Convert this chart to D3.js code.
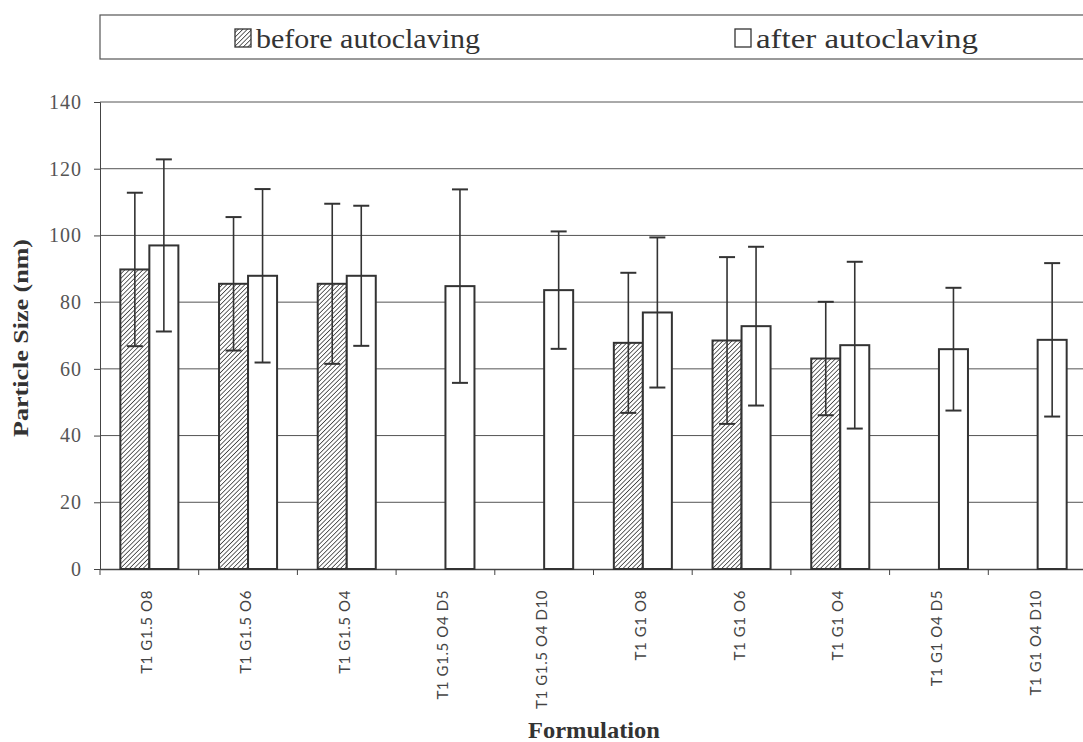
<!DOCTYPE html>
<html><head><meta charset="utf-8">
<script src="https://cdn.jsdelivr.net/npm/d3@7"></script>
<style>
body{margin:0;background:#fff;} svg{display:block;}
.serif{font-family:"Liberation Serif","Times New Roman","DejaVu Serif",serif;}
.hum{font-family:Lato,"Open Sans",sans-serif;}
</style>
</head><body>
<svg id="c" width="1083" height="742"></svg>
<script>
const categories = ["T1 G1.5 O8","T1 G1.5 O6","T1 G1.5 O4","T1 G1.5 O4 D5","T1 G1.5 O4 D10","T1 G1 O8","T1 G1 O6","T1 G1 O4","T1 G1 O4 D5","T1 G1 O4 D10"];
const seriesNames = ["before autoclaving","after autoclaving"];
const beforeMean = [89.8, 85.5, 85.5, null, null, 67.8, 68.5, 63.1, null, null];
const beforeSD   = [23.0, 20.0, 24.0, null, null, 21.0, 25.0, 17.0, null, null];
const afterMean  = [97.0, 87.9, 87.9, 84.8, 83.6, 76.9, 72.8, 67.1, 65.9, 68.7];
const afterSD    = [25.8, 26.0, 21.0, 29.0, 17.6, 22.5, 23.8, 25.0, 18.4, 23.0];
const yTicks = [0,20,40,60,80,100,120,140];

const svg = d3.select("#c");
const L = 100, R = 1087, T = 102, B = 569;

const defs = svg.append("defs");
const pat = defs.append("pattern").attr("id","hatch").attr("patternUnits","userSpaceOnUse")
  .attr("width",3.2).attr("height",3.2).attr("patternTransform","rotate(45)");
pat.append("rect").attr("width",3.2).attr("height",3.2).attr("fill","#fff");
pat.append("line").attr("x1",0).attr("y1",0).attr("x2",0).attr("y2",3.2).attr("stroke","#333").attr("stroke-width",1.5);

const x = d3.scaleBand().domain(categories).range([L,R]).padding(0);
const bw = x.bandwidth();
const x1 = d3.scaleBand().domain(seriesNames).range([bw*0.206, bw*0.794]).padding(0);
const y = d3.scaleLinear().domain([0,140]).range([B,T]);

// legend box
svg.append("rect").attr("x",100).attr("y",15).attr("width",1000).attr("height",44)
  .attr("fill","none").attr("stroke","#555").attr("stroke-width",1.2);
const leg = [{name:seriesNames[0], fill:"url(#hatch)", x:235, len:224},{name:seriesNames[1], fill:"#fff", x:735, len:222}];
leg.forEach(d=>{
  svg.append("rect").attr("x",d.x).attr("y",29).attr("width",16).attr("height",18)
    .attr("fill",d.fill).attr("stroke","#333").attr("stroke-width",1.3);
  svg.append("text").attr("class","serif").attr("x",d.x+21).attr("y",48).text(d.name)
    .attr("font-size",28).attr("fill","#333")
    .attr("textLength", d.len).attr("lengthAdjust","spacingAndGlyphs");
});

// gridlines
svg.append("g").selectAll("line").data(yTicks.filter(t=>t>0)).join("line")
  .attr("x1",L).attr("x2",R).attr("y1",d=>y(d)).attr("y2",d=>y(d))
  .attr("stroke","#555").attr("stroke-width",1);

// y axis
const ya = svg.append("g").attr("transform",`translate(${L},0)`)
  .call(d3.axisLeft(y).tickValues(yTicks).tickSize(6).tickPadding(12));
ya.select(".domain").attr("stroke","#444");
ya.selectAll(".tick line").attr("stroke","#444");
ya.selectAll("text").attr("class","serif").attr("font-family",null).attr("font-size",20).attr("fill","#555")
  .style("letter-spacing","1px");

// x axis
const xa = svg.append("g").attr("transform",`translate(0,${B})`)
  .call(d3.axisBottom(x).tickSize(0).tickFormat(""));
xa.select(".domain").attr("stroke","#444").attr("stroke-width",1.5);
svg.append("g").selectAll("line").data(d3.range(categories.length+1)).join("line")
  .attr("x1",i=>L+i*bw).attr("x2",i=>L+i*bw).attr("y1",B).attr("y2",B+6).attr("stroke","#444");

// x labels
svg.append("g").selectAll("text").data(categories).join("text")
  .attr("class","hum")
  .attr("transform",d=>`translate(${x(d)+bw/2+3},590) rotate(-90)`)
  .attr("text-anchor","end").text(d=>d)
  .attr("font-size",15).attr("fill","#444").style("letter-spacing","0.6px");

// bars
const data = categories.map((c,i)=>({c, vals:[
  {s:seriesNames[0], m:beforeMean[i], sd:beforeSD[i]},
  {s:seriesNames[1], m:afterMean[i], sd:afterSD[i]}].filter(v=>v.m!==null)}));
const g = svg.append("g").selectAll("g").data(data).join("g").attr("transform",d=>`translate(${x(d.c)},0)`);
g.selectAll("rect").data(d=>d.vals).join("rect")
  .attr("x",d=>x1(d.s)).attr("width",x1.bandwidth()).attr("y",d=>y(d.m)).attr("height",d=>B-y(d.m))
  .attr("fill",d=>d.s===seriesNames[0]?"url(#hatch)":"#fff").attr("stroke","#333").attr("stroke-width",2);
// error bars
const eb = g.selectAll("g.eb").data(d=>d.vals).join("g").attr("class","eb");
eb.append("line").attr("x1",d=>x1(d.s)+x1.bandwidth()/2).attr("x2",d=>x1(d.s)+x1.bandwidth()/2)
  .attr("y1",d=>y(d.m+d.sd)).attr("y2",d=>y(d.m-d.sd)).attr("stroke","#333").attr("stroke-width",1.6);
["+","-"].forEach(sg=>{
  eb.append("line").attr("x1",d=>x1(d.s)+x1.bandwidth()/2-8).attr("x2",d=>x1(d.s)+x1.bandwidth()/2+8)
    .attr("y1",d=>y(sg==="+"?d.m+d.sd:d.m-d.sd)).attr("y2",d=>y(sg==="+"?d.m+d.sd:d.m-d.sd))
    .attr("stroke","#333").attr("stroke-width",2);
});

// axis titles
svg.append("text").attr("class","serif").attr("transform",`translate(28,338) rotate(-90)`).attr("text-anchor","middle")
  .text("Particle Size (nm)").attr("font-weight","bold")
  .attr("font-size",22).attr("fill","#333").attr("textLength",198).attr("lengthAdjust","spacingAndGlyphs");
svg.append("text").attr("class","serif").attr("x",594).attr("y",738).attr("text-anchor","middle")
  .text("Formulation").attr("font-weight","bold")
  .attr("font-size",23).attr("fill","#333").attr("textLength",132).attr("lengthAdjust","spacingAndGlyphs");
</script>
</body></html>
